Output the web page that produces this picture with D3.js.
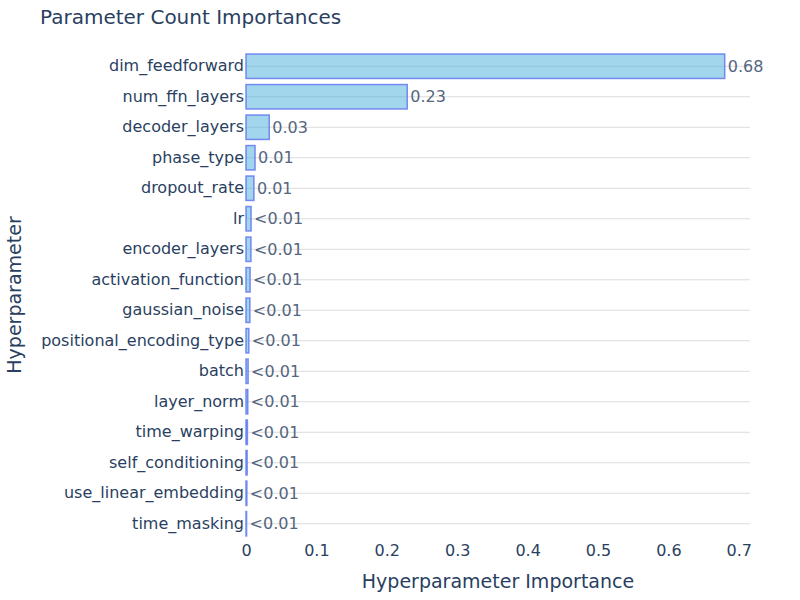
<!DOCTYPE html>
<html>
<head>
<meta charset="utf-8">
<script src="https://cdn.jsdelivr.net/npm/d3@7"></script>
<style>
  html, body { margin: 0; padding: 0; background: #fff; }
  svg { display: block; font-family: "DejaVu Sans", Verdana, sans-serif; }
</style>
</head>
<body>
<svg id="chart" width="800" height="600"></svg>
<script>
const params = ["dim_feedforward", "num_ffn_layers", "decoder_layers", "phase_type", "dropout_rate", "lr",
  "encoder_layers", "activation_function", "gaussian_noise", "positional_encoding_type", "batch",
  "layer_norm", "time_warping", "self_conditioning", "use_linear_embedding", "time_masking"];
const importances = [0.680, 0.229, 0.033, 0.0128, 0.0112, 0.0072, 0.0070, 0.0058, 0.0055, 0.0040,
  0.0030, 0.0025, 0.0020, 0.0016, 0.0012, 0.0008];
const xTicks = [0, 0.1, 0.2, 0.3, 0.4, 0.5, 0.6, 0.7];

const svg = d3.select("#chart");
const margin = { left: 246, right: 50, top: 51, bottom: 61 };
const W = 800, H = 600;

const x = d3.scaleLinear().domain([0, 0.7159]).range([margin.left, W - margin.right]);
const y = d3.scaleBand().domain(params).range([margin.top, H - margin.bottom]).paddingInner(0.2).paddingOuter(0.1);

const textColor = "#2a3f5f";

// horizontal gridlines at category centres
svg.append("g").selectAll("line").data(params).join("line")
  .attr("x1", x(0)).attr("x2", x.range()[1])
  .attr("y1", d => y(d) + y.bandwidth() / 2).attr("y2", d => y(d) + y.bandwidth() / 2)
  .attr("stroke", "#dcdcdc").attr("stroke-width", 1);

// bars
svg.append("g").selectAll("rect").data(params).join("rect")
  .attr("x", x(0))
  .attr("y", (d) => y(d))
  .attr("width", (d, i) => Math.max(0, x(importances[i]) - x(0)))
  .attr("height", y.bandwidth())
  .attr("fill", "rgb(67,173,217)").attr("fill-opacity", 0.5)
  .attr("stroke", "rgb(99,120,240)").attr("stroke-opacity", 0.85).attr("stroke-width", 1.5);

// value labels
svg.append("g").selectAll("text").data(params).join("text")
  .attr("x", (d, i) => x(importances[i]) + 3)
  .attr("y", d => y(d) + y.bandwidth() / 2)
  .attr("dy", "0.35em")
  .attr("font-size", 16)
  .attr("fill", "#556680")
  .text((d, i) => importances[i] < 0.01 ? "<0.01" : importances[i].toFixed(2));

// y axis labels
const yAxis = d3.axisLeft(y).tickSize(0).tickPadding(2);
const gy = svg.append("g").attr("transform", `translate(${x(0)},0)`).call(yAxis);
gy.select(".domain").remove();
gy.selectAll("text").attr("font-size", 16).attr("fill", textColor).attr("font-family", "DejaVu Sans, Verdana, sans-serif");

// x axis
const xAxis = d3.axisBottom(x).tickValues(xTicks).tickSize(0).tickPadding(0)
  .tickFormat(d => d === 0 ? "0" : d3.format(".1f")(d));
const gx = svg.append("g").attr("transform", `translate(0,${H - margin.bottom})`).call(xAxis);
gx.select(".domain").remove();
gx.selectAll("text").attr("font-size", 16).attr("fill", textColor)
  .attr("font-family", "DejaVu Sans, Verdana, sans-serif").attr("dy", "0").attr("y", 17);

// title
svg.append("text").attr("x", 40).attr("y", 24).attr("font-size", 20).attr("fill", textColor)
  .text("Parameter Count Importances");

// axis titles
svg.append("text").attr("x", (x.range()[0] + x.range()[1]) / 2).attr("y", 588)
  .attr("text-anchor", "middle").attr("font-size", 19).attr("fill", textColor)
  .text("Hyperparameter Importance");
svg.append("text")
  .attr("transform", `translate(21,${(y.range()[0] + y.range()[1]) / 2}) rotate(-90)`)
  .attr("text-anchor", "middle").attr("font-size", 19).attr("fill", textColor)
  .text("Hyperparameter");
</script>
</body>
</html>
